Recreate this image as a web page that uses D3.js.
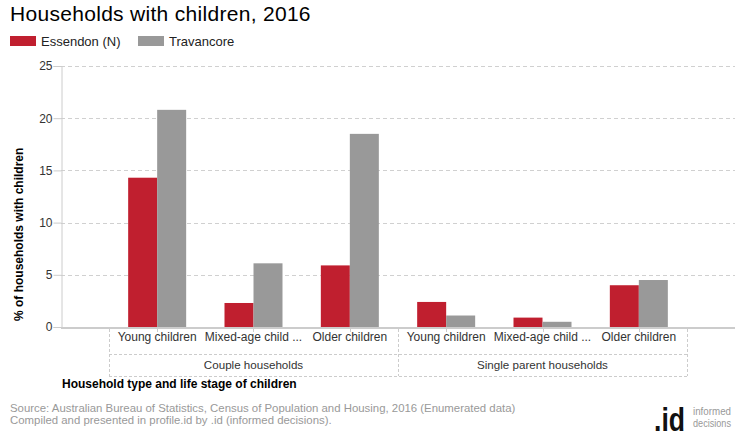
<!DOCTYPE html>
<html><head><meta charset="utf-8">
<script src="https://cdn.jsdelivr.net/npm/d3@7"></script>
<style>
body{margin:0;background:#fff;}
svg{font-family:"Liberation Sans",Arial,sans-serif;display:block;}
</style></head>
<body>
<svg id="chart" width="740" height="440"></svg>
<script>
const title = "Households with children, 2016";
const seriesNames = ["Essendon (N)", "Travancore"];
const seriesColors = ["#C01F2F", "#999999"];
const categories = ["Young children", "Mixed-age child ...", "Older children", "Young children", "Mixed-age child ...", "Older children"];
const groups = ["Couple households", "Single parent households"];
const groupSizes = [3, 3];
const essendon = [14.3, 2.3, 5.9, 2.4, 0.9, 4.0];
const travancore = [20.8, 6.1, 18.5, 1.1, 0.5, 4.5];
const yTicks = [0, 5, 10, 15, 20, 25];
const yTitle = "% of households with children";
const xTitle = "Household type and life stage of children";
const source1 = "Source: Australian Bureau of Statistics, Census of Population and Housing, 2016 (Enumerated data)";
const source2 = "Compiled and presented in profile.id by .id (informed decisions).";

const svg = d3.select("#chart");
const plotL = 61, plotR = 735, plotT = 66, plotB = 327;
const catL = 109, catR = 687;

const y = d3.scaleLinear().domain([0, 25]).range([plotB, plotT]);
const x = d3.scaleBand().domain(d3.range(categories.length)).range([catL, catR]).padding(0);
const xs = d3.scaleBand().domain([0, 1]).range([-29, 29]).padding(0);

// title
svg.append("text").attr("x", 10).attr("y", 21).attr("font-size", 21).attr("letter-spacing", 0.3).attr("fill", "#000").text(title);

// legend
const legX = [10, 138];
seriesNames.forEach((n, i) => {
  svg.append("rect").attr("x", legX[i]).attr("y", 36).attr("width", 26).attr("height", 10).attr("fill", seriesColors[i]);
  svg.append("text").attr("x", legX[i] + 31).attr("y", 46).attr("font-size", 13).attr("fill", "#222").text(n);
});

// gridlines
svg.append("g").selectAll("line").data(yTicks.filter(t => t > 0)).join("line")
  .attr("x1", plotL).attr("x2", plotR).attr("y1", d => Math.round(y(d)) + 0.5).attr("y2", d => Math.round(y(d)) + 0.5)
  .attr("stroke", "#d0d0d0").attr("stroke-dasharray", "4,3");

// y axis
const yAxis = svg.append("g").attr("transform", `translate(${plotL + 0.5},0)`)
  .call(d3.axisLeft(y).tickValues(yTicks).tickSize(8).tickPadding(1).tickFormat(d3.format("d")));
yAxis.select(".domain").attr("stroke", "#cccccc");
yAxis.selectAll(".tick line").attr("stroke", "#cccccc");
yAxis.selectAll(".tick text").attr("font-size", 12).attr("fill", "#333").attr("font-family", "Liberation Sans, Arial, sans-serif");

svg.append("text").attr("transform", `translate(23,321) rotate(-90)`)
  .attr("text-anchor", "start").attr("font-size", 12).attr("font-weight", "bold").attr("fill", "#000").text(yTitle);

// bars
const series = [essendon, travancore];
series.forEach((vals, si) => {
  svg.append("g").selectAll("rect").data(vals).join("rect")
    .attr("x", (d, i) => x(i) + x.bandwidth() / 2 + xs(si))
    .attr("width", xs.bandwidth())
    .attr("y", d => y(d))
    .attr("height", d => y(0) - y(d))
    .attr("fill", seriesColors[si]);
});

// x axis line
svg.append("line").attr("x1", plotL).attr("x2", plotR).attr("y1", plotB + 1).attr("y2", plotB + 1)
  .attr("stroke", "#cccccc").attr("stroke-width", 2);
// small ticks at category centers
svg.append("g").selectAll("line").data(d3.range(categories.length)).join("line")
  .attr("x1", i => Math.round(x(i) + x.bandwidth() / 2) + 0.5).attr("x2", i => Math.round(x(i) + x.bandwidth() / 2) + 0.5)
  .attr("y1", plotB + 2).attr("y2", plotB + 5).attr("stroke", "#cccccc");

// grouped category labels
const labelG = svg.append("g");
labelG.selectAll("text").data(categories).join("text")
  .attr("x", (d, i) => x(i) + x.bandwidth() / 2).attr("y", 341)
  .attr("text-anchor", "middle").attr("font-size", 12).attr("fill", "#333").text(d => d);

let start = 0;
const bounds = [catL];
groups.forEach((g, gi) => {
  const end = start + groupSizes[gi];
  const gx0 = x(start), gx1 = x(end - 1) + x.bandwidth();
  bounds.push(gx1);
  labelG.append("text").attr("x", (gx0 + gx1) / 2).attr("y", 369)
    .attr("text-anchor", "middle").attr("font-size", 11.6).attr("fill", "#333").text(g);
  start = end;
});
labelG.selectAll("line.v").data(bounds).join("line")
  .attr("x1", d => Math.round(d) + 0.5).attr("x2", d => Math.round(d) + 0.5)
  .attr("y1", plotB + 2).attr("y2", 376).attr("stroke", "#cccccc").attr("stroke-dasharray", "3,2");
[354.5, 376.5].forEach(yy => {
  labelG.append("line").attr("x1", catL).attr("x2", catR).attr("y1", yy).attr("y2", yy)
    .attr("stroke", "#cccccc").attr("stroke-dasharray", "3,2");
});

svg.append("text").attr("x", 62).attr("y", 388).attr("font-size", 12).attr("font-weight", "bold").attr("fill", "#000").text(xTitle);

// footer
svg.append("text").attr("x", 10).attr("y", 412).attr("font-size", 11.4).attr("fill", "#999").text(source1);
svg.append("text").attr("x", 10).attr("y", 424).attr("font-size", 11.4).attr("fill", "#999").text(source2);

// logo
svg.append("text").attr("x", 654).attr("y", 431).attr("font-size", 33).attr("font-weight", "bold").attr("fill", "#111")
  .attr("textLength", 31).attr("lengthAdjust", "spacingAndGlyphs").text(".id");
svg.append("text").attr("x", 693).attr("y", 415).attr("font-size", 11).attr("fill", "#999")
  .attr("textLength", 38).attr("lengthAdjust", "spacingAndGlyphs").text("informed");
svg.append("text").attr("x", 693).attr("y", 427).attr("font-size", 11).attr("fill", "#999")
  .attr("textLength", 38).attr("lengthAdjust", "spacingAndGlyphs").text("decisions");
</script>
</body></html>
